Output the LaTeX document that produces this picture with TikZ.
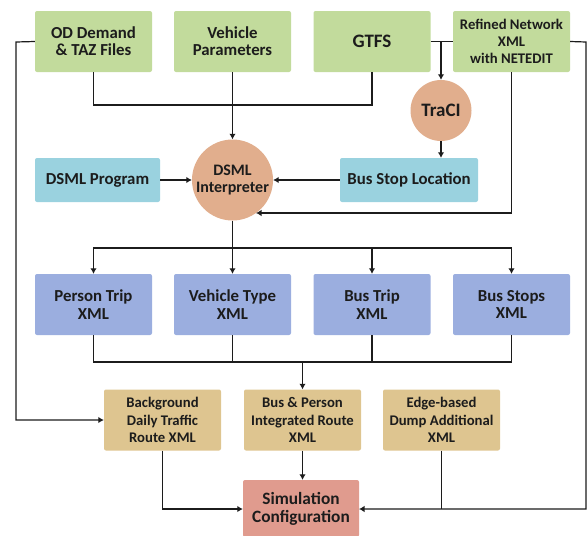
\documentclass[tikz,border=0pt]{standalone}
\usepackage{fontspec}
\setmainfont{Carlito}
\usetikzlibrary{arrows.meta}
\definecolor{cgreen}{HTML}{C2DB9C}
\definecolor{cblue}{HTML}{9BAEDF}
\definecolor{cteal}{HTML}{9AD2DF}
\definecolor{cpeach}{HTML}{E1AE8D}
\definecolor{ctan}{HTML}{DEC590}
\definecolor{cred}{HTML}{E09B8E}
\definecolor{cink}{HTML}{1C1C1C}
\tikzset{
  every node/.style={text=cink,font=\fontsize{16.8}{17.3}\selectfont\bfseries,align=center,inner sep=0pt},
  bx/.style={rectangle,rounded corners=2pt,minimum width=117pt,minimum height=61pt},
  smalltxt/.style={font=\fontsize{14.7}{17.3}\selectfont\bfseries},
  bigtxt/.style={font=\fontsize{19}{19}\selectfont\bfseries},
  simtxt/.style={font=\fontsize{17.3}{18}\selectfont\bfseries},
  srcbox/.style={bx,fill=cgreen},
  outbox/.style={bx,fill=cblue},
  routebox/.style={bx,smalltxt,fill=ctan},
  progbox/.style={rectangle,rounded corners=2pt,fill=cteal,minimum height=44pt},
  procnode/.style={circle,fill=cpeach},
  ln/.style={draw=cink,line width=1.2pt},
  ar/.style={ln,-{Latex[length=5.5pt,width=6.5pt]}}
}
\begin{document}
\begin{tikzpicture}[x=1pt,y=-1pt]
\useasboundingbox (0,0) rectangle (587,536);
\node[srcbox] (od) at (93.5,41.5) {OD Demand\\\& TAZ Files};
\node[srcbox] (veh) at (232.5,41.5) {Vehicle\\Parameters};
\node[srcbox,bigtxt] (gtfs) at (372,41.5) {GTFS};
\node[srcbox,smalltxt] (net) at (511.5,41.5) {Refined Network\\XML\\with NETEDIT};
\node[procnode,minimum size=61pt,bigtxt] (traci) at (441,110.5) {TraCI};
\node[procnode,minimum size=81pt,font=\fontsize{16}{17.3}\selectfont\bfseries] (dsml) at (232.5,180) {DSML\\Interpreter};
\node[progbox,minimum width=125pt] (prog) at (97.5,180) {DSML Program};
\node[progbox,minimum width=138pt] (stop) at (409,180) {Bus Stop Location};
\node[outbox] (pt) at (93.5,304.5) {Person Trip\\XML};
\node[outbox] (vt) at (232.5,304.5) {Vehicle Type\\XML};
\node[outbox] (bt) at (372,304.5) {Bus Trip\\XML};
\node[outbox] (bs) at (511.5,304.5) {Bus Stops\\XML};
\node[routebox] (bg) at (162.5,420) {Background\\Daily Traffic\\Route XML};
\node[routebox] (int) at (302.5,420) {Bus \& Person\\Integrated Route\\XML};
\node[routebox] (edge) at (441.5,420) {Edge-based\\Dump Additional\\XML};
\node[bx,simtxt,fill=cred,minimum height=57pt,minimum width=116pt] (sim) at (301,508.5) {Simulation\\Configuration};
\coordinate (lft) at (16,42);
\coordinate (rgt) at (586,42);
\coordinate (topbus) at (232.5,105);
\coordinate (dist) at (232.5,248);
\coordinate (coll) at (302.5,362);
\coordinate (simin) at (359,509);
\coordinate (netin) at (256,213);
% inputs
\draw[ar] (od.west) -- (lft) |- (bg.west);
\draw[ln] (od.south) |- (topbus) -| (gtfs.south);
\draw[ar] (veh.south) -- (dsml.north);
\draw[ln] (gtfs.east) -- (net.west);
\draw[ar] (traci.north |- gtfs.east) -- (traci.north);
\draw[ar] (traci.south) -- (traci.south |- stop.north);
\draw[ar] (stop.west) -- (dsml.east);
\draw[ar] (prog.east) -- (dsml.west);
\draw[ar] (net.south) |- (netin);
% distribution
\draw[ar] (dsml.south) -- (vt.north);
\draw[ar] (dist) -| (pt.north);
\draw[ar] (dist) -| (bt.north);
\draw[ar] (dist) -| (bs.north);
% collection
\draw[ln] (pt.south) |- (coll);
\draw[ln] (vt.south) |- (coll);
\draw[ln] (bt.south) |- (coll);
\draw[ln] (bs.south) |- (coll);
\draw[ar] (coll) -- (int.north);
\draw[ar] (int.south) -- (int.south |- sim.north);
% to configuration
\draw[ar] (bg.south) |- (sim.west |- simin);
\draw[ln] (edge.south) -- (edge.south |- simin);
\draw[ar] (net.east) -- (rgt) |- (simin);
\end{tikzpicture}
\end{document}
